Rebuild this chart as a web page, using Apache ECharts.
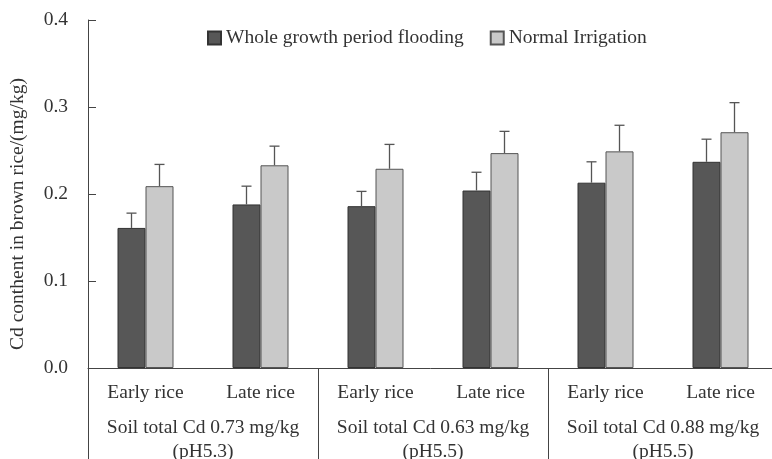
<!DOCTYPE html>
<html>
<head>
<meta charset="utf-8">
<script src="https://cdn.jsdelivr.net/npm/echarts@6/dist/echarts.min.js"></script>
<style>html,body{margin:0;padding:0;background:#fff;}#c{width:772px;height:459px;}</style>
</head>
<body>
<div id="c"></div>
<script>
var categories = ['Early rice', 'Late rice', 'Early rice', 'Late rice', 'Early rice', 'Late rice'];
var groups = ['Soil total Cd 0.73 mg/kg\n(pH5.3)', 'Soil total Cd 0.63 mg/kg\n(pH5.5)', 'Soil total Cd 0.88 mg/kg\n(pH5.5)'];
var seriesNames = ['Whole growth period flooding', 'Normal Irrigation'];
var flooding = [0.161, 0.188, 0.186, 0.204, 0.213, 0.237];
var floodingErr = [0.017, 0.021, 0.017, 0.021, 0.024, 0.026];
var irrigation = [0.209, 0.233, 0.229, 0.247, 0.249, 0.271];
var irrigationErr = [0.025, 0.022, 0.028, 0.025, 0.030, 0.034];
var yTitle = 'Cd conthent in brown rice/(mg/kg)';

var FONT = 'Liberation Serif';
var FS = 19.5;
var TXT = '#333';
var AX = '#444';
var BW = 28;

function errData(vals, errs) {
  return vals.map(function (v, i) { return [i, v + errs[i], v]; });
}
function errRender(side) {
  return function (params, api) {
    var top = api.coord([api.value(0), api.value(1)]);
    var base = api.coord([api.value(0), api.value(2)]);
    var x = top[0] + side * BW / 2;
    var style = { stroke: '#555', lineWidth: 1.3 };
    return {
      type: 'group',
      children: [
        { type: 'line', shape: { x1: x, y1: base[1], x2: x, y2: top[1] }, style: style },
        { type: 'line', shape: { x1: x - 5, y1: top[1], x2: x + 5, y2: top[1] }, style: style }
      ]
    };
  };
}

var chart = echarts.init(document.getElementById('c'), null, { renderer: 'canvas' });
chart.setOption({
  animation: false,
  textStyle: { fontFamily: FONT, color: TXT },
  grid: { left: 88, top: 20, width: 690, height: 348, containLabel: false, outerBoundsMode: 'none' },
  legend: {
    data: seriesNames,
    left: 202, top: 23,
    itemWidth: 13, itemHeight: 13, itemGap: 26,
    icon: 'rect',
    textStyle: { fontFamily: FONT, fontSize: FS, color: TXT }
  },
  xAxis: [
    {
      type: 'category', data: categories, position: 'bottom',
      axisLine: { show: true, lineStyle: { color: AX, width: 1 } },
      axisTick: { show: false },
      axisLabel: { interval: 0, margin: 15, fontFamily: FONT, fontSize: FS, color: TXT }
    },
    {
      type: 'category', data: groups, position: 'bottom',
      axisLine: { show: false },
      axisTick: { show: true, length: 92, lineStyle: { color: AX, width: 1 } },
      axisLabel: { interval: 0, margin: 48, fontFamily: FONT, fontSize: FS, color: TXT, lineHeight: 24 }
    }
  ],
  yAxis: {
    type: 'value', min: 0, max: 0.4, interval: 0.1,
    axisLine: { show: true, lineStyle: { color: AX, width: 1 } },
    axisTick: { show: true, inside: true, length: 8, lineStyle: { color: AX } },
    splitLine: { show: false },
    axisLabel: { margin: 20, fontFamily: FONT, fontSize: FS, color: TXT,
      formatter: function (v) { return v.toFixed(1); } }
  },
  graphic: [{
    type: 'text', x: 18, y: 214, rotation: Math.PI / 2,
    style: { text: yTitle, fontFamily: FONT, fontSize: FS, fill: TXT, align: 'center', verticalAlign: 'middle' }
  }],
  series: [
    {
      name: seriesNames[0], type: 'bar', data: flooding, barWidth: BW, barGap: '0%',
      itemStyle: { color: '#575757', borderColor: '#333', borderWidth: 1 }
    },
    {
      name: seriesNames[1], type: 'bar', data: irrigation, barWidth: BW, barGap: '0%',
      itemStyle: { color: '#c9c9c9', borderColor: '#555', borderWidth: 1 }
    },
    {
      type: 'custom', data: errData(flooding, floodingErr), renderItem: errRender(-1), z: 5,
      encode: { x: 0, y: [1, 2] }
    },
    {
      type: 'custom', data: errData(irrigation, irrigationErr), renderItem: errRender(1), z: 5,
      encode: { x: 0, y: [1, 2] }
    }
  ]
});
</script>
</body>
</html>
